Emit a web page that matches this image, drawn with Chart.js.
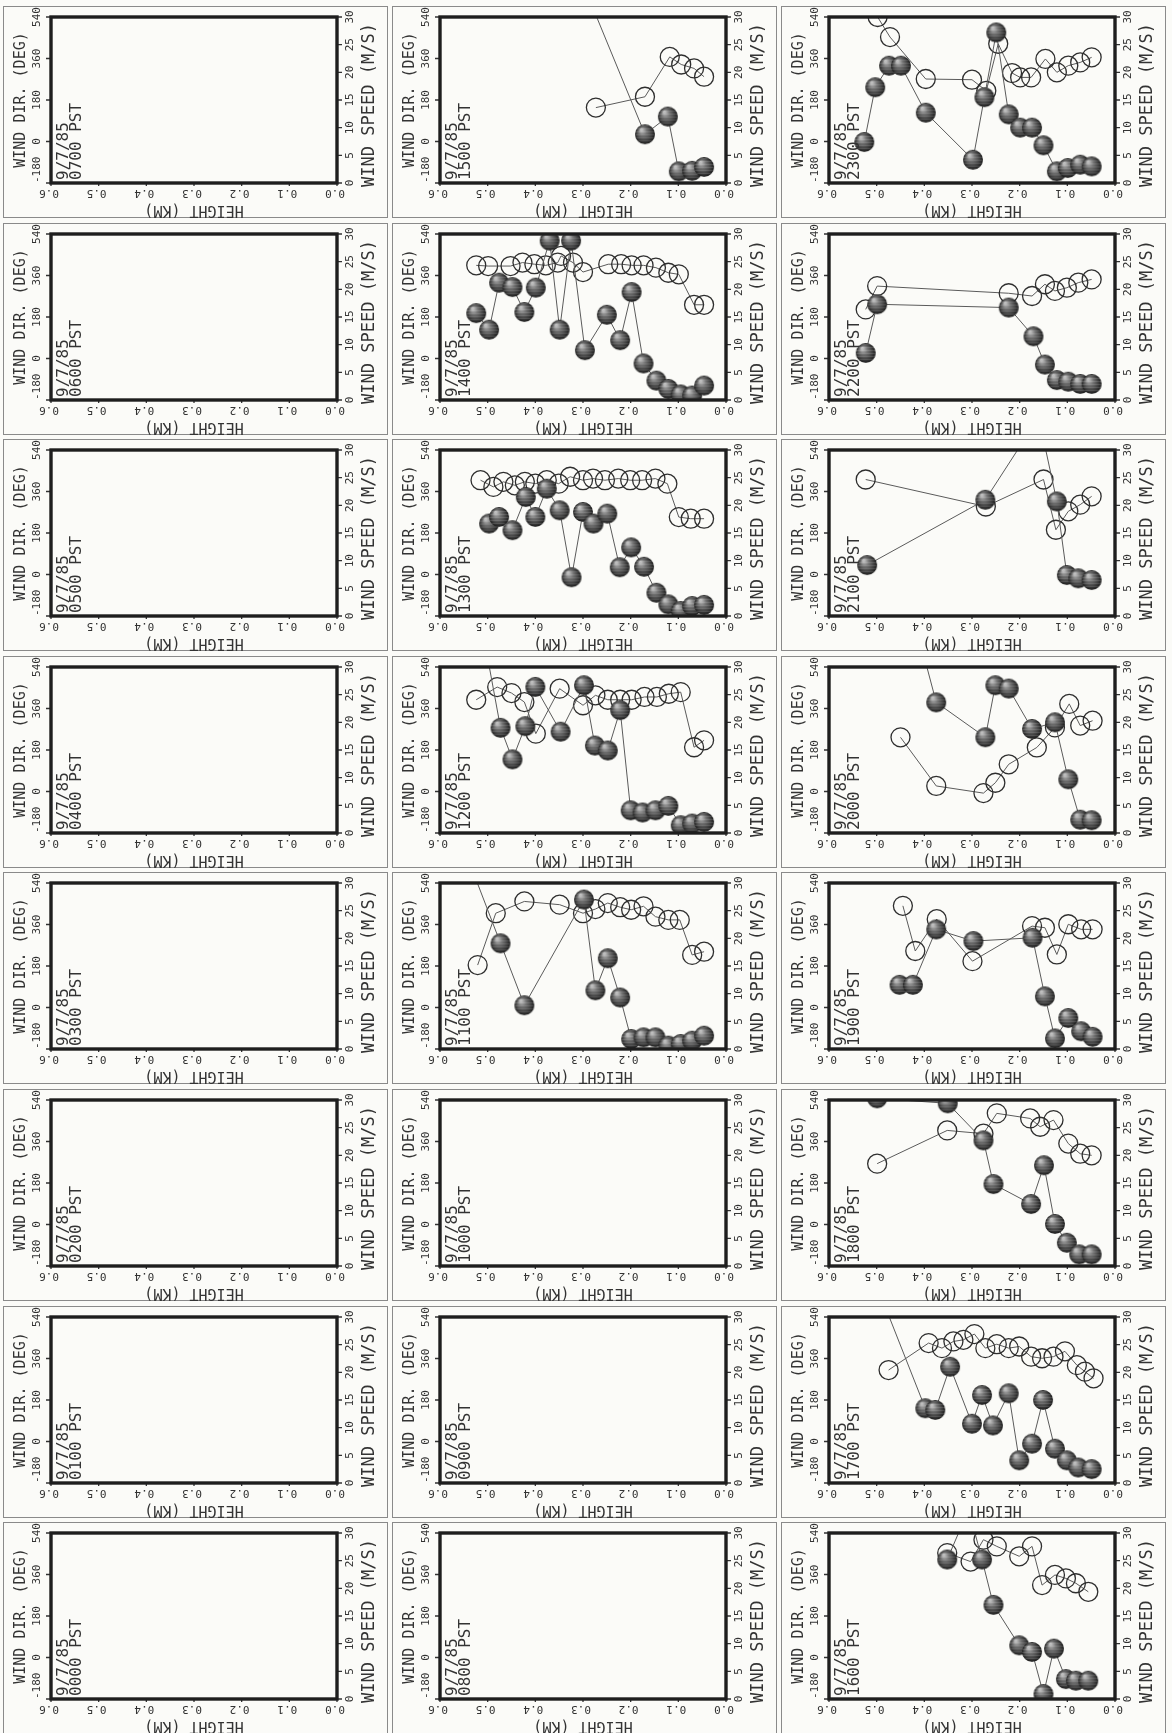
<!DOCTYPE html>
<html>
<head>
<meta charset="utf-8">
<script src="https://cdn.jsdelivr.net/npm/chart.js@4.4.1/dist/chart.umd.min.js"></script>
<style>
  html, body { margin: 0; padding: 0; background: #fbfbf8; }
  #page { position: relative; width: 1172px; height: 1733px; overflow: hidden; }
  .panel { position: absolute; }
</style>
</head>
<body>
<div id="page"></div>
<script>
// ---- axis ticks ----
const dirTicks = [-180, 0, 180, 360, 540];
const spdTicks = [0, 5, 10, 15, 20, 25, 30];
const heightTicks = [0.6, 0.5, 0.4, 0.3, 0.2, 0.1, 0.0];
const heightTickLabels = ['0.6', '0.5', '0.4', '0.3', '0.2', '0.1', '0.0'];
const dateLabel = '9/7/85';

// ---- panel layout: three columns of hourly soundings, latest hour at the top ----
const column1 = ['0700', '0600', '0500', '0400', '0300', '0200', '0100', '0000'];
const column2 = ['1500', '1400', '1300', '1200', '1100', '1000', '0900', '0800'];
const column3 = ['2300', '2200', '2100', '2000', '1900', '1800', '1700', '1600'];

// ---- soundings: height (km), wind direction (deg), wind speed (m/s) ----
const hDir1100 = [0.521, 0.483, 0.423, 0.349, 0.300, 0.274, 0.248, 0.222, 0.199, 0.173, 0.148, 0.121, 0.097, 0.071, 0.046];
const dir1100  = [184, 409, 460, 446, 409, 427, 453, 435, 424, 439, 394, 380, 380, 228, 242];
const hSpd1100 = [0.535, 0.473, 0.423, 0.298, 0.274, 0.248, 0.222, 0.199, 0.173, 0.148, 0.121, 0.095, 0.071, 0.046];
const spd1100  = [33, 19.1, 7.9, 27.0, 10.6, 16.4, 9.3, 1.8, 2.1, 2.1, 0.6, 0.9, 1.5, 2.4];

const hDir1200 = [0.524, 0.480, 0.450, 0.423, 0.399, 0.349, 0.300, 0.274, 0.248, 0.222, 0.198, 0.171, 0.145, 0.120, 0.095, 0.067, 0.046];
const dir1200  = [398, 453, 427, 388, 251, 446, 374, 417, 398, 398, 398, 410, 410, 424, 431, 192, 222];
const hSpd1200 = [0.505, 0.473, 0.448, 0.421, 0.400, 0.347, 0.298, 0.275, 0.248, 0.222, 0.200, 0.175, 0.148, 0.121, 0.095, 0.071, 0.046];
const spd1200  = [34, 19.0, 13.3, 19.3, 26.4, 18.3, 26.7, 15.8, 14.9, 22.2, 4.1, 3.7, 4.1, 4.9, 1.4, 1.7, 2.0];

const hDir1300 = [0.515, 0.488, 0.467, 0.443, 0.422, 0.400, 0.376, 0.351, 0.327, 0.300, 0.279, 0.254, 0.226, 0.201, 0.176, 0.148, 0.123, 0.099, 0.074, 0.046];
const dir1300  = [409, 380, 402, 387, 402, 394, 409, 394, 424, 409, 416, 409, 416, 409, 409, 416, 394, 249, 242, 242];
const hSpd1300 = [0.497, 0.476, 0.448, 0.420, 0.400, 0.376, 0.349, 0.324, 0.300, 0.278, 0.249, 0.223, 0.199, 0.172, 0.146, 0.121, 0.095, 0.071, 0.046];
const spd1300  = [16.7, 17.9, 15.5, 21.5, 17.9, 23.0, 19.1, 7.0, 18.8, 16.7, 18.5, 8.8, 12.4, 8.9, 4.2, 2.1, 0.9, 1.8, 2.0];

const hDir1400 = [0.524, 0.499, 0.452, 0.427, 0.402, 0.378, 0.353, 0.346, 0.321, 0.300, 0.247, 0.220, 0.198, 0.173, 0.147, 0.121, 0.099, 0.067, 0.046];
const dir1400  = [404, 401, 401, 416, 409, 404, 416, 445, 416, 375, 409, 409, 404, 404, 394, 372, 365, 233, 233];
const hSpd1400 = [0.524, 0.497, 0.476, 0.448, 0.423, 0.399, 0.370, 0.349, 0.325, 0.296, 0.250, 0.222, 0.198, 0.173, 0.146, 0.121, 0.095, 0.071, 0.046];
const spd1400  = [15.7, 12.7, 21.2, 20.4, 15.9, 20.3, 28.8, 12.7, 28.8, 9.0, 15.4, 10.8, 19.5, 6.6, 3.5, 2.0, 1.0, 0.8, 2.6];

const hDir1500 = [0.273, 0.170, 0.118, 0.094, 0.067, 0.046];
const dir1500  = [147, 194, 367, 334, 317, 281];
const hSpd1500 = [0.300, 0.170, 0.122, 0.099, 0.071, 0.046];
const spd1500  = [36, 8.8, 12.0, 2.1, 2.2, 2.9];

const hDir1600 = [0.352, 0.303, 0.276, 0.248, 0.201, 0.174, 0.153, 0.126, 0.103, 0.082, 0.056];
const dir1600  = [453, 416, 511, 482, 439, 482, 314, 358, 343, 322, 285];
const hSpd1600 = [0.352, 0.307, 0.279, 0.255, 0.201, 0.174, 0.150, 0.128, 0.103, 0.082, 0.056];
const spd1600  = [25.2, 34.3, 25.2, 17.0, 9.7, 8.5, 0.9, 9.1, 3.6, 3.3, 3.3];

const hDir1700 = [0.475, 0.391, 0.363, 0.339, 0.318, 0.295, 0.272, 0.248, 0.223, 0.201, 0.176, 0.153, 0.129, 0.105, 0.080, 0.063, 0.045];
const dir1700  = [310, 427, 405, 434, 441, 466, 405, 422, 405, 412, 368, 361, 368, 391, 331, 303, 274];
const hSpd1700 = [0.485, 0.398, 0.377, 0.346, 0.300, 0.279, 0.256, 0.223, 0.201, 0.174, 0.151, 0.126, 0.101, 0.077, 0.049];
const spd1700  = [32.5, 13.5, 13.2, 21.0, 10.7, 15.9, 10.4, 16.2, 4.1, 7.1, 15.0, 6.2, 4.1, 2.8, 2.5];

const hDir1800 = [0.499, 0.352, 0.276, 0.248, 0.178, 0.157, 0.129, 0.098, 0.073, 0.049];
const dir1800  = [264, 408, 394, 482, 460, 424, 453, 351, 307, 300];
const hSpd1800 = [0.499, 0.351, 0.276, 0.255, 0.176, 0.149, 0.126, 0.101, 0.075, 0.049];
const spd1800  = [30.3, 29.4, 22.7, 14.8, 11.2, 18.2, 7.6, 4.2, 2.1, 2.1];

const hDir1900 = [0.445, 0.419, 0.374, 0.299, 0.174, 0.147, 0.122, 0.098, 0.071, 0.047];
const dir1900  = [441, 245, 383, 201, 353, 346, 230, 361, 339, 339];
const hSpd1900 = [0.452, 0.424, 0.375, 0.297, 0.173, 0.147, 0.126, 0.098, 0.071, 0.047];
const spd1900  = [11.6, 11.6, 21.6, 19.5, 20.1, 9.5, 1.9, 5.6, 3.2, 2.2];

const hDir2000 = [0.450, 0.375, 0.276, 0.251, 0.223, 0.164, 0.126, 0.096, 0.073, 0.047];
const dir2000  = [235, 24, -7, 38, 118, 191, 278, 380, 286, 307];
const hSpd2000 = [0.410, 0.375, 0.272, 0.251, 0.223, 0.174, 0.126, 0.098, 0.073, 0.049];
const spd2000  = [35, 23.6, 17.3, 26.7, 26.1, 18.8, 20.0, 9.7, 2.4, 2.3];

const hDir2100 = [0.523, 0.271, 0.150, 0.124, 0.098, 0.073, 0.049];
const dir2100  = [412, 295, 412, 194, 274, 303, 339];
const hSpd2100 = [0.520, 0.272, 0.160, 0.122, 0.101, 0.077, 0.049];
const spd2100  = [9.2, 21.0, 35.9, 20.7, 7.4, 6.8, 6.5];

const hDir2200 = [0.523, 0.499, 0.223, 0.174, 0.147, 0.126, 0.101, 0.077, 0.049];
const dir2200  = [213, 314, 283, 271, 322, 293, 307, 329, 343];
const hSpd2200 = [0.523, 0.499, 0.223, 0.171, 0.147, 0.122, 0.098, 0.073, 0.049];
const spd2200  = [8.5, 17.3, 16.7, 11.5, 6.4, 3.6, 3.3, 2.9, 2.9];

const hDir2300 = [0.498, 0.472, 0.397, 0.300, 0.270, 0.245, 0.216, 0.199, 0.176, 0.146, 0.122, 0.098, 0.073, 0.049];
const dir2300  = [540, 453, 271, 268, 220, 424, 297, 278, 278, 358, 300, 329, 343, 365];
const hSpd2300 = [0.526, 0.503, 0.474, 0.449, 0.397, 0.298, 0.274, 0.249, 0.223, 0.199, 0.174, 0.150, 0.122, 0.099, 0.073, 0.049];
const spd2300  = [7.4, 17.3, 21.2, 21.2, 12.7, 4.2, 15.5, 27.2, 12.4, 10.0, 10.0, 6.8, 2.1, 2.7, 3.3, 3.0];

// lookup table of the hours that have a sounding
const soundings = {
  '1100': [hDir1100, dir1100, hSpd1100, spd1100],
  '1200': [hDir1200, dir1200, hSpd1200, spd1200],
  '1300': [hDir1300, dir1300, hSpd1300, spd1300],
  '1400': [hDir1400, dir1400, hSpd1400, spd1400],
  '1500': [hDir1500, dir1500, hSpd1500, spd1500],
  '1600': [hDir1600, dir1600, hSpd1600, spd1600],
  '1700': [hDir1700, dir1700, hSpd1700, spd1700],
  '1800': [hDir1800, dir1800, hSpd1800, spd1800],
  '1900': [hDir1900, dir1900, hSpd1900, spd1900],
  '2000': [hDir2000, dir2000, hSpd2000, spd2000],
  '2100': [hDir2100, dir2100, hSpd2100, spd2100],
  '2200': [hDir2200, dir2200, hSpd2200, spd2200],
  '2300': [hDir2300, dir2300, hSpd2300, spd2300]
};

// ---- geometry ----
const PANEL_W = 385, PANEL_H = 212;
const PLOT_L = 48, PLOT_W = 286, PLOT_T = 11, PLOT_H = 166;
const colLeft = [3, 392, 781];
const rowPitch = 216.6, rowTop0 = 6;
const INK = '#333333';
const MONO = '"DejaVu Sans Mono", "Liberation Mono", monospace';

// shaded ball used for the wind speed markers
function makeBall(r) {
  const c = document.createElement('canvas');
  const s = 2 * r + 2;
  c.width = c.height = s;
  const g = c.getContext('2d');
  const grad = g.createRadialGradient(r * 0.75, r * 0.65, 1, r + 1, r + 1, r);
  grad.addColorStop(0, '#bdbdbd');
  grad.addColorStop(0.35, '#737373');
  grad.addColorStop(0.8, '#373737');
  grad.addColorStop(1, '#1a1a1a');
  g.fillStyle = grad;
  g.beginPath();
  g.arc(r + 1, r + 1, r, 0, Math.PI * 2);
  g.fill();
  // faint horizontal banding of the print screen
  g.globalCompositeOperation = 'source-atop';
  g.strokeStyle = 'rgba(255,255,255,0.12)';
  g.lineWidth = 1;
  for (let y = 2; y < s; y += 3) {
    g.beginPath(); g.moveTo(0, y + 0.5); g.lineTo(s, y + 0.5); g.stroke();
  }
  return c;
}
const ball = makeBall(10);

function rotText(ctx, text, x, y, angle, font, align) {
  ctx.save();
  ctx.translate(x, y);
  ctx.rotate(angle);
  ctx.font = font;
  ctx.textAlign = align || 'center';
  ctx.textBaseline = 'middle';
  ctx.fillText(text, 0, 0);
  ctx.restore();
}

// frame, tick marks and rotated labels of each panel
const framePlugin = {
  id: 'profileFrame',
  afterDatasetsDraw(chart) {
    const { ctx, chartArea: a, scales } = chart;
    const hour = chart.options.plugins.profileFrame.hour;
    ctx.save();
    // outer panel rule
    ctx.strokeStyle = '#8a8a8a';
    ctx.lineWidth = 1;
    ctx.strokeRect(0.5, 0.5, chart.width - 1, chart.height - 1);

    ctx.strokeStyle = INK;
    ctx.lineWidth = 1.3;
    ctx.beginPath();
    dirTicks.forEach(v => {
      const y = scales.dir.getPixelForValue(v);
      ctx.moveTo(a.left - 5, y); ctx.lineTo(a.left, y);
    });
    spdTicks.forEach(v => {
      const y = scales.spd.getPixelForValue(v);
      ctx.moveTo(a.right, y); ctx.lineTo(a.right + 5, y);
    });
    heightTicks.forEach(v => {
      const x = scales.x.getPixelForValue(v);
      ctx.moveTo(x, a.bottom); ctx.lineTo(x, a.bottom + 3);
    });
    ctx.stroke();

    // heavy plot frame
    ctx.lineWidth = 3.4;
    ctx.strokeStyle = '#1e1e1e';
    ctx.strokeRect(a.left, a.top, a.right - a.left, a.bottom - a.top);

    ctx.fillStyle = INK;
    const up = -Math.PI / 2;
    // left axis
    dirTicks.forEach((v, i) => {
      const y = scales.dir.getPixelForValue(v);
      if (i === 0) rotText(ctx, String(v), a.left - 14, y, up, '11px ' + MONO, 'left');
      else rotText(ctx, String(v), a.left - 14, y, up, '11px ' + MONO);
    });
    rotText(ctx, 'WIND DIR. (DEG)', a.left - 30, (a.top + a.bottom) / 2, up, '15px ' + MONO);
    // right axis
    spdTicks.forEach(v => {
      rotText(ctx, String(v), a.right + 13, scales.spd.getPixelForValue(v), up, '11px ' + MONO);
    });
    rotText(ctx, 'WIND SPEED (M/S)', a.right + 33, (a.top + a.bottom) / 2 + 5, up, '17px ' + MONO);
    // height axis, printed upside down
    heightTicks.forEach((v, i) => {
      rotText(ctx, heightTickLabels[i], scales.x.getPixelForValue(v) - 2, a.bottom + 10, Math.PI, '11px ' + MONO);
    });
    rotText(ctx, 'HEIGHT (KM)', (a.left + a.right) / 2, a.bottom + 27, Math.PI, '15px ' + MONO);
    // date and time stamp
    rotText(ctx, dateLabel, a.left + 13, a.bottom - 3, up, '16px ' + MONO, 'left');
    rotText(ctx, hour + ' PST', a.left + 26, a.bottom - 3, up, '16px ' + MONO, 'left');
    ctx.restore();
  }
};

function pairs(hs, vs) {
  return hs.map((h, i) => ({ x: h, y: vs[i] }));
}

function buildPanel(hour, col, row) {
  const div = document.createElement('div');
  div.className = 'panel';
  div.style.left = colLeft[col] + 'px';
  div.style.top = Math.round(rowTop0 + row * rowPitch) + 'px';
  const cv = document.createElement('canvas');
  cv.width = PANEL_W; cv.height = PANEL_H;
  div.appendChild(cv);
  document.getElementById('page').appendChild(div);

  const s = soundings[hour];
  const dirPts = s ? pairs(s[0], s[1]) : [];
  const spdPts = s ? pairs(s[2], s[3]) : [];

  new Chart(cv, {
    type: 'scatter',
    data: {
      datasets: [
        {
          label: 'Wind direction',
          data: dirPts,
          yAxisID: 'dir',
          showLine: true,
          order: 2,
          borderColor: '#5a5a5a',
          borderWidth: 1,
          pointStyle: 'circle',
          pointRadius: 9.5,
          pointBackgroundColor: 'rgba(0,0,0,0)',
          pointBorderColor: '#2e2e2e',
          pointBorderWidth: 1.3
        },
        {
          label: 'Wind speed',
          data: spdPts,
          yAxisID: 'spd',
          showLine: true,
          order: 1,
          borderColor: '#5a5a5a',
          borderWidth: 1,
          pointStyle: ball,
          pointRadius: 10
        }
      ]
    },
    options: {
      responsive: false,
      animation: false,
      events: [],
      devicePixelRatio: 1,
      layout: {
        padding: {
          left: PLOT_L,
          right: PANEL_W - PLOT_L - PLOT_W,
          top: PLOT_T,
          bottom: PANEL_H - PLOT_T - PLOT_H
        }
      },
      plugins: {
        legend: { display: false },
        tooltip: { enabled: false },
        profileFrame: { hour: hour }
      },
      scales: {
        x: { type: 'linear', min: 0, max: 0.6, reverse: true, display: false },
        y: { display: false },
        dir: { type: 'linear', position: 'left', min: -180, max: 540, display: false },
        spd: { type: 'linear', position: 'right', min: 0, max: 30, display: false }
      }
    },
    plugins: [framePlugin]
  });
}

[column1, column2, column3].forEach((col, c) => {
  col.forEach((hour, r) => buildPanel(hour, c, r));
});
</script>
</body>
</html>
